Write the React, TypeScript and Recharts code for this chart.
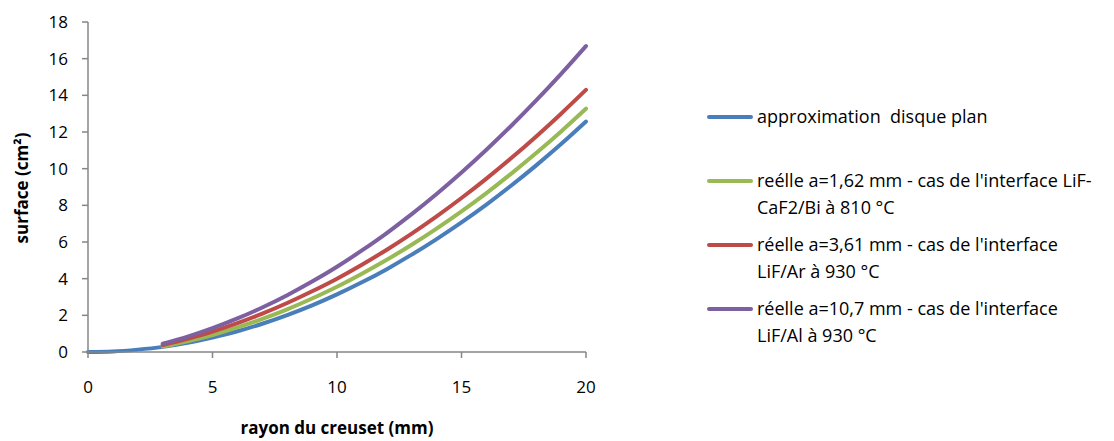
import React from 'react';
import { LineChart, Line, XAxis, YAxis, Label } from 'recharts';

// rayon du creuset (mm)
const radius = [0, 1, 2, 3, 4, 5, 6, 7, 8, 9, 10, 11, 12, 13, 14, 15, 16, 17, 18, 19, 20];

// surface (cm²)
const discPlan = [0, 0.03, 0.13, 0.28, 0.5, 0.79, 1.13, 1.54, 2.01, 2.54, 3.14, 3.8, 4.52, 5.31, 6.16, 7.07, 8.04, 9.08, 10.18, 11.34, 12.57];
const reelleBi = [null, null, null, 0.3, 0.59, 0.93, 1.34, 1.81, 2.33, 2.92, 3.56, 4.27, 5.03, 5.85, 6.73, 7.67, 8.67, 9.73, 10.85, 12.03, 13.27];
const reelleAr = [null, null, null, 0.38, 0.72, 1.11, 1.57, 2.09, 2.67, 3.31, 4.0, 4.76, 5.58, 6.46, 7.4, 8.4, 9.46, 10.58, 11.76, 13.0, 14.3];
const reelleAl = [null, null, null, 0.45, 0.84, 1.3, 1.83, 2.43, 3.1, 3.84, 4.65, 5.54, 6.49, 7.52, 8.62, 9.79, 11.03, 12.34, 13.72, 15.17, 16.69];

const xTicks = [0, 5, 10, 15, 20];
const yTicks = [0, 2, 4, 6, 8, 10, 12, 14, 16, 18];

const seriesInfo = [
  { key: 'plan', color: '#4A7EBB', lines: ['approximation  disque plan'] },
  { key: 'bi', color: '#98B954', lines: ["reélle a=1,62 mm - cas de l'interface LiF-", 'CaF2/Bi à 810 °C'] },
  { key: 'ar', color: '#BE4B48', lines: ["réelle a=3,61 mm - cas de l'interface", 'LiF/Ar à 930 °C'] },
  { key: 'al', color: '#7D60A0', lines: ["réelle a=10,7 mm - cas de l'interface", 'LiF/Al à 930 °C'] },
];

const data = radius.map((r, i) => ({
  r,
  plan: discPlan[i],
  bi: reelleBi[i],
  ar: reelleAr[i],
  al: reelleAl[i],
}));

const FONT = '"Open Sans", sans-serif';
const AXIS_COLOR = '#868686';

// legend drawn as plain HTML so it does not steal room from the plot
const ChartLegend = () => (
  <div
    style={{
      position: 'absolute',
      left: 707,
      top: 103,
      fontFamily: FONT,
      fontSize: 18,
      color: '#000',
      lineHeight: '27px',
    }}
  >
    {seriesInfo.map((s) => (
      <div key={s.key} style={{ display: 'flex', height: 64 }}>
        <div style={{ width: 46, height: 4, background: s.color, borderRadius: 2, marginTop: 12, marginRight: 4, flexShrink: 0 }} />
        <div>
          {s.lines.map((l, i) => (
            <div key={i} style={{ whiteSpace: 'pre' }}>{l}</div>
          ))}
        </div>
      </div>
    ))}
  </div>
);

const App: React.FC = () => {
  return (
    <div style={{ position: 'absolute', left: 0, top: 0, width: 1114, height: 441, background: '#fff' }}>
      <LineChart
        width={1114}
        height={441}
        data={data}
        margin={{ top: 22, right: 528, left: 0, bottom: 0 }}
        style={{ fontFamily: FONT }}
      >
        <XAxis
          dataKey="r"
          type="number"
          domain={[0, 20]}
          ticks={xTicks}
          height={89}
          stroke={AXIS_COLOR}
          strokeWidth={1.5}
          tickSize={6}
          tickMargin={23}
          tick={{ fill: '#000', fontSize: 17 }}
        >
          <Label
            content={() => (
              <text x={337} y={434} textAnchor="middle" fontSize={17} fontWeight="bold" fill="#000">
                rayon du creuset (mm)
              </text>
            )}
          />
        </XAxis>
        <YAxis
          type="number"
          domain={[0, 18]}
          ticks={yTicks}
          width={88}
          stroke={AXIS_COLOR}
          strokeWidth={1.5}
          tickSize={6}
          tickMargin={14}
          tick={{ fill: '#000', fontSize: 17 }}
        >
          <Label
            content={() => (
              <text
                x={28}
                y={188}
                textAnchor="middle"
                fontSize={17}
                fontWeight="bold"
                fill="#000"
                transform="rotate(-90 28 188)"
              >
                surface (cm²)
              </text>
            )}
          />
        </YAxis>
        {seriesInfo.map((s) => (
          <Line
            key={s.key}
            dataKey={s.key}
            type="monotone"
            stroke={s.color}
            strokeWidth={4}
            strokeLinecap="round"
            dot={false}
            activeDot={false}
            isAnimationActive={false}
            connectNulls={false}
          />
        ))}
      </LineChart>
      <ChartLegend />
    </div>
  );
};

export default App;
